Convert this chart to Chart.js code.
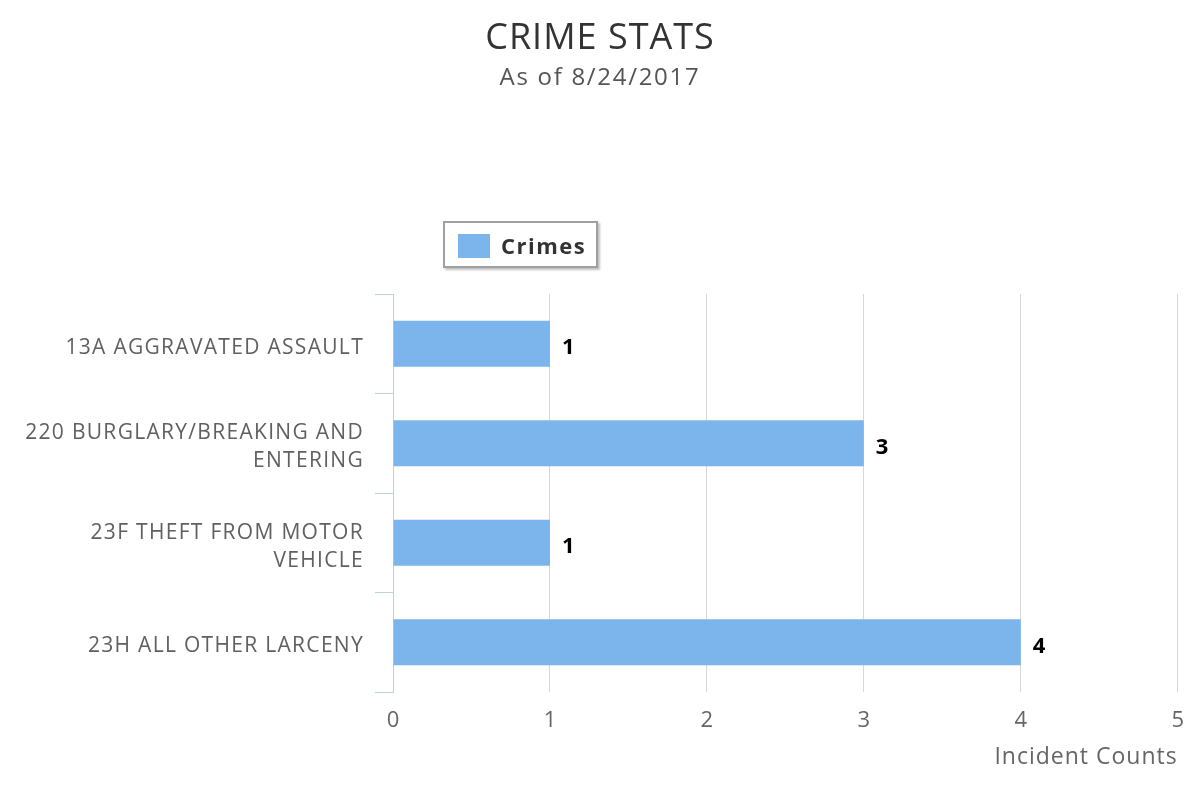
<!DOCTYPE html>
<html>
<head>
<meta charset="utf-8">
<script src="https://cdn.jsdelivr.net/npm/chart.js@4"></script>
<style>
  html, body { margin: 0; padding: 0; background: #fff; }
  #wrap { position: relative; width: 1200px; height: 800px; }
  #legend {
    position: absolute; left: 443px; top: 221px; width: 151px; height: 43px;
    border: 2px solid #a0a0a0; background: #fff;
    box-shadow: 2px 2px 2px rgba(0,0,0,0.25);
    font-family: "Open Sans", sans-serif; font-weight: bold; font-size: 22px; color: #333;
    letter-spacing: 1.5px;
  }
  #legend .sw { position: absolute; left: 13px; top: 11px; width: 32px; height: 24px; background: #7cb5ec; }
  #legend .tx { position: absolute; left: 56px; top: 7px; line-height: 30px; }
</style>
</head>
<body>
<div id="wrap">
  <canvas id="c" width="1200" height="800"></canvas>
  <div id="legend"><div class="sw"></div><div class="tx">Crimes</div></div>
</div>
<script>
const categories = [
  "13A AGGRAVATED ASSAULT",
  ["220 BURGLARY/BREAKING AND", "ENTERING"],
  ["23F THEFT FROM MOTOR", "VEHICLE"],
  "23H ALL OTHER LARCENY"
];
const crimeCounts = [1, 3, 1, 4];
const seriesName = "Crimes";
const xTicks = [0, 1, 2, 3, 4, 5];
const titleText = "CRIME STATS";
const subtitleText = "As of 8/24/2017";
const xAxisTitle = "Incident Counts";

const dataLabels = {
  id: 'dataLabels',
  afterDatasetsDraw(chart) {
    const ctx = chart.ctx;
    const meta = chart.getDatasetMeta(0);
    ctx.save();
    ctx.font = 'bold 22px "Open Sans", sans-serif';
    ctx.fillStyle = '#000';
    ctx.textAlign = 'left';
    ctx.textBaseline = 'middle';
    meta.data.forEach((bar, i) => {
      ctx.fillText(String(crimeCounts[i]), bar.x + 12, bar.y + 4);
    });
    ctx.restore();
  }
};

const chart = new Chart(document.getElementById('c'), {
  type: 'bar',
  data: {
    labels: categories,
    datasets: [{
      label: seriesName,
      data: crimeCounts,
      backgroundColor: '#7cb5ec',
      borderWidth: 0,
      categoryPercentage: 1,
      barPercentage: 0.46
    }]
  },
  plugins: [dataLabels],
  options: {
    indexAxis: 'y',
    responsive: false,
    animation: false,
    layout: { padding: { left: 22, right: 22, top: 0, bottom: 0 } },
    plugins: {
      legend: { display: false },
      tooltip: { enabled: false },
      title: {
        display: true,
        text: titleText,
        color: '#333',
        font: { family: '"Open Sans", sans-serif', size: 36, weight: 'normal', lineHeight: 1.2 },
        padding: { top: 17, bottom: 0 }
      },
      subtitle: {
        display: true,
        text: subtitleText,
        color: '#555',
        font: { family: '"Open Sans", sans-serif', size: 24, weight: 'normal', lineHeight: 1.2 },
        padding: { top: 4, bottom: 201 }
      }
    },
    scales: {
      x: {
        type: 'linear',
        min: 0, max: 5,
        afterBuildTicks(scale) { scale.ticks = xTicks.map(v => ({ value: v })); },
        afterFit(scale) { scale.height = 108; },
        grid: { color: '#d8d8d8', lineWidth: 1, drawTicks: false },
        border: { display: false },
        ticks: {
          color: '#666',
          padding: 16,
          font: { family: '"Open Sans", sans-serif', size: 22 }
        },
        title: {
          display: true,
          text: xAxisTitle,
          align: 'end',
          color: '#666',
          font: { family: '"Open Sans", sans-serif', size: 23 },
          padding: { top: 0, bottom: 29 }
        }
      },
      y: {
        afterFit(scale) { scale.width = 371; },
        grid: {
          drawOnChartArea: false,
          drawTicks: true,
          tickLength: 18,
          tickColor: '#c0d0e0',
          color: '#c0d0e0',
          offset: true
        },
        border: { display: true, color: '#c0d0e0', width: 1 },
        ticks: {
          color: '#606060',
          padding: 11,
          labelOffset: 4,
          crossAlign: 'near',
          font: { family: '"Open Sans", sans-serif', size: 21, lineHeight: 1.35 }
        }
      }
    }
  }
});

// letter spacing to match the reference's wider text rendering
function withSpacing(obj, method, spacing) {
  const orig = obj[method];
  obj[method] = function (...args) {
    const ctx = this.ctx;
    const prev = ctx.letterSpacing;
    ctx.letterSpacing = spacing;
    const r = orig.apply(this, args);
    ctx.letterSpacing = prev;
    return r;
  };
}
chart.boxes.forEach(b => {
  if (b.options && b.options.text === titleText) withSpacing(b, 'draw', '1px');
  if (b.options && b.options.text === subtitleText) withSpacing(b, 'draw', '1.7px');
});
withSpacing(chart.scales.y, 'drawLabels', '1.3px');
withSpacing(chart.scales.x, 'drawTitle', '1px');
chart.draw();
</script>
</body>
</html>
